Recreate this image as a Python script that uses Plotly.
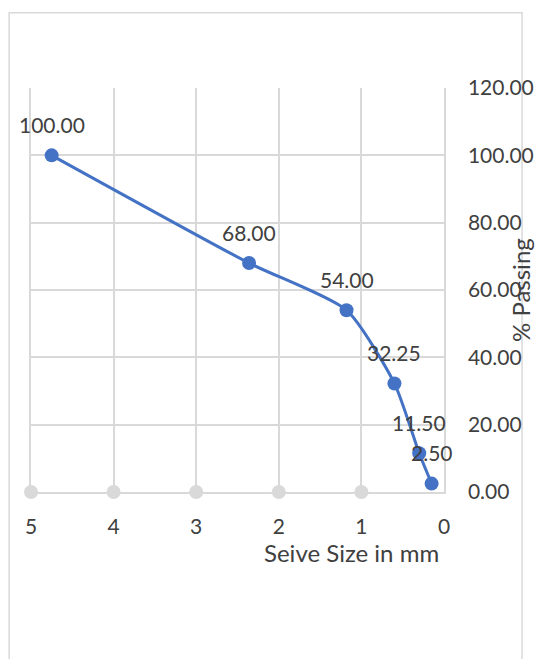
import plotly.graph_objects as go

sieve_mm = [4.75, 2.36, 1.18, 0.6, 0.3, 0.15]
passing = [100.00, 68.00, 54.00, 32.25, 11.50, 2.50]
labels = ["100.00", "68.00", "54.00", "32.25", "11.50", "2.50"]
ref_x = [5, 4, 3, 2, 1]
ref_y = [0, 0, 0, 0, 0]
y_ticks = [0, 20, 40, 60, 80, 100, 120]

FONT = "Lato, 'Open Sans', sans-serif"
GRID = "#d9d9d9"
TXT = "#404040"

fig = go.Figure()
fig.add_trace(go.Scatter(x=ref_x, y=ref_y, mode="markers",
                         marker=dict(size=14, color=GRID), cliponaxis=False,
                         hoverinfo="skip", showlegend=False))
fig.add_trace(go.Scatter(x=sieve_mm, y=passing, mode="lines+markers",
                         line=dict(color="#4472C4", width=3, shape="spline", smoothing=0.6),
                         marker=dict(size=14, color="#4472C4"),
                         cliponaxis=False, showlegend=False))

annotations = [
    dict(x=xv, y=yv, text=t, xref="x", yref="y", showarrow=False,
         xanchor="center", yanchor="middle", yshift=31,
         font=dict(size=21, color=TXT, family=FONT))
    for xv, yv, t in zip(sieve_mm, passing, labels)
]
annotations += [
    dict(text="Seive Size in mm", xref="paper", yref="paper",
         x=(351 - 31) / 413, y=(492 - 552) / 404, showarrow=False,
         xanchor="center", yanchor="middle", font=dict(size=24, color=TXT)),
    dict(text="% Passing", xref="paper", yref="paper",
         x=(520 - 31) / 413, y=(492 - 290) / 404, showarrow=False,
         textangle=-90, xanchor="center", yanchor="middle",
         font=dict(size=24, color=TXT)),
]

fig.update_layout(
    width=537, height=659,
    margin=dict(l=31, r=93, t=88, b=167, autoexpand=False),
    paper_bgcolor="white", plot_bgcolor="white",
    font=dict(family=FONT, color=TXT, size=21),
    xaxis=dict(range=[5, 0], tickmode="array", tickvals=[5, 4, 3, 2, 1, 0],
               ticktext=["5", "4", "3", "2", "1", "0"], automargin=False,
               showgrid=True, gridcolor=GRID, gridwidth=1.5,
               zeroline=False, showline=True, linecolor=GRID, linewidth=1.5,
               mirror=False, ticks="", tickfont=dict(size=21, color=TXT),
               ticklabelstandoff=15),
    yaxis=dict(range=[0, 120], side="right", tickmode="array", tickvals=y_ticks,
               ticktext=[f"{v:.2f}" for v in y_ticks], automargin=False,
               showgrid=True, gridcolor=GRID, gridwidth=1.5,
               zeroline=False, showline=True, linecolor=GRID, linewidth=1.5,
               mirror=True, ticks="", tickfont=dict(size=21, color=TXT),
               ticklabelstandoff=18),
    shapes=[dict(type="rect", xref="paper", yref="paper",
                 x0=-0.053, x1=1.189, y0=-0.6, y1=1.186,
                 line=dict(color=GRID, width=1.5), layer="below")],
    annotations=annotations,
)

fig.write_html("out.html")
